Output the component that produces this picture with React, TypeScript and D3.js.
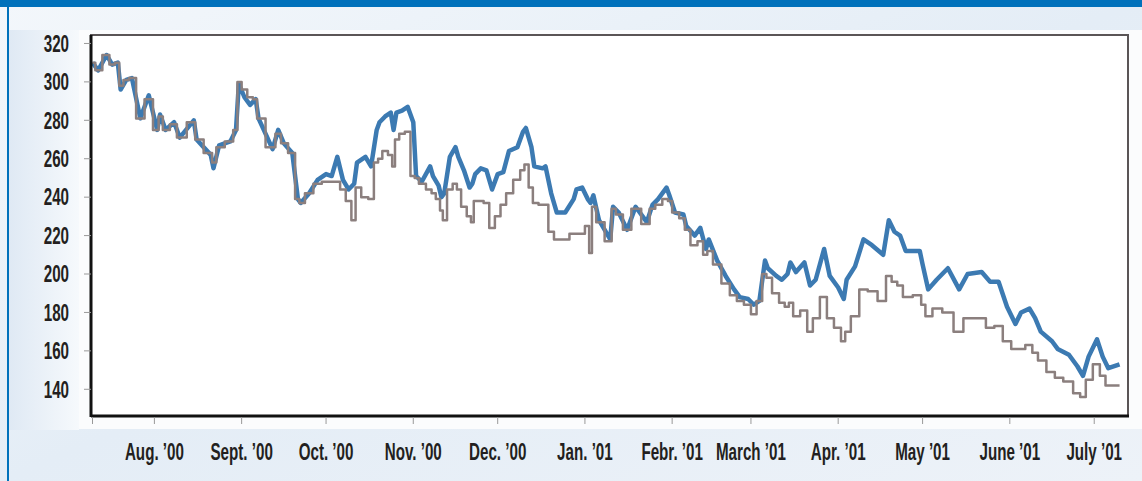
import React from 'react';
import * as d3 from 'd3';

// sample dates (irregular, follows the turns of the lines)
const dates = [
    '2000-07-10', '2000-07-12', '2000-07-15', '2000-07-17', '2000-07-19', '2000-07-20', '2000-07-22', '2000-07-24',
    '2000-07-27', '2000-07-30', '2000-08-02', '2000-08-03', '2000-08-05', '2000-08-08', '2000-08-10', '2000-08-15',
    '2000-08-16', '2000-08-21', '2000-08-22', '2000-08-24', '2000-08-28', '2000-08-30', '2000-08-31', '2000-09-02',
    '2000-09-04', '2000-09-06', '2000-09-07', '2000-09-12', '2000-09-14', '2000-09-16', '2000-09-19', '2000-09-21',
    '2000-09-22', '2000-09-25', '2000-09-28', '2000-10-01', '2000-10-03', '2000-10-05', '2000-10-07', '2000-10-09',
    '2000-10-11', '2000-10-12', '2000-10-15', '2000-10-17', '2000-10-19', '2000-10-20', '2000-10-22', '2000-10-24',
    '2000-10-25', '2000-10-26', '2000-10-28', '2000-10-30', '2000-11-01', '2000-11-02', '2000-11-04', '2000-11-07',
    '2000-11-08', '2000-11-10', '2000-11-11', '2000-11-12', '2000-11-14', '2000-11-16', '2000-11-17', '2000-11-19',
    '2000-11-21', '2000-11-22', '2000-11-23', '2000-11-25', '2000-11-27', '2000-11-29', '2000-12-01', '2000-12-03',
    '2000-12-05', '2000-12-08', '2000-12-10', '2000-12-11', '2000-12-13', '2000-12-14', '2000-12-17', '2000-12-18',
    '2000-12-20', '2000-12-22', '2000-12-25', '2000-12-28', '2000-12-29', '2000-12-31', '2001-01-02', '2001-01-03',
    '2001-01-04', '2001-01-06', '2001-01-10', '2001-01-11', '2001-01-13', '2001-01-16', '2001-01-19', '2001-01-23',
    '2001-01-25', '2001-01-27', '2001-01-30', '2001-01-31', '2001-02-02', '2001-02-05', '2001-02-06', '2001-02-09',
    '2001-02-11', '2001-02-13', '2001-02-14', '2001-02-17', '2001-02-20', '2001-02-23', '2001-02-25', '2001-02-28',
    '2001-03-02', '2001-03-04', '2001-03-06', '2001-03-07', '2001-03-10', '2001-03-12', '2001-03-14', '2001-03-15',
    '2001-03-17', '2001-03-20', '2001-03-22', '2001-03-24', '2001-03-27', '2001-03-29', '2001-04-01', '2001-04-03',
    '2001-04-04', '2001-04-07', '2001-04-10', '2001-04-13', '2001-04-17', '2001-04-19', '2001-04-21', '2001-04-23',
    '2001-04-25', '2001-04-30', '2001-05-01', '2001-05-03', '2001-05-06', '2001-05-10', '2001-05-14', '2001-05-17',
    '2001-05-22', '2001-05-25', '2001-05-28', '2001-05-31', '2001-06-03', '2001-06-05', '2001-06-08', '2001-06-10',
    '2001-06-12', '2001-06-16', '2001-06-18', '2001-06-22', '2001-06-25', '2001-06-27', '2001-06-29', '2001-07-02',
    '2001-07-04', '2001-07-06', '2001-07-10',
];

// blue series
const blueValues = [
    310, 306, 314, 309, 310, 296, 301, 302, 281, 293, 275, 283, 275, 279, 271, 280,
    270, 262, 255, 267, 269, 275, 299, 292, 288, 291, 281, 265, 275, 268, 263, 239,
    237, 242, 249, 252, 251, 261, 249, 244, 247, 258, 261, 256, 275, 279, 282, 284,
    275, 284, 285, 287, 279, 251, 248, 256, 251, 246, 240, 242, 261, 266, 261, 254,
    245, 247, 252, 255, 254, 244, 252, 253, 264, 266, 274, 276, 266, 256, 255, 256,
    242, 232, 232, 239, 244, 245, 239, 237, 241, 228, 218, 235, 232, 223, 235, 227,
    236, 239, 245, 241, 232, 231, 225, 220, 224, 213, 218, 207, 199, 192, 188, 187,
    184, 186, 207, 203, 199, 197, 200, 206, 201, 206, 194, 197, 213, 199, 193, 187,
    197, 204, 218, 215, 210, 228, 222, 220, 212, 212, 205, 192, 197, 203, 192, 200,
    201, 196, 196, 183, 174, 180, 182, 177, 170, 165, 161, 158, 152, 147, 157, 166,
    157, 151, 153,
];

// grey series
const greyValues = [
    310, 306, 314, 309, 310, 298, 301, 302, 281, 291, 275, 282, 275, 278, 271, 279,
    270, 263, 258, 266, 269, 275, 300, 296, 292, 291, 281, 266, 273, 268, 263, 239,
    237, 242, 247, 248, 248, 248, 244, 238, 228, 245, 240, 239, 258, 260, 264, 262,
    256, 270, 273, 274, 251, 250, 247, 244, 242, 239, 233, 228, 244, 247, 244, 235,
    230, 227, 238, 238, 237, 224, 230, 236, 242, 249, 254, 257, 245, 237, 236, 236,
    222, 218, 218, 221, 221, 221, 225, 211, 235, 227, 217, 234, 231, 223, 234, 226,
    234, 236, 239, 238, 232, 229, 223, 215, 217, 210, 212, 205, 195, 189, 186, 184,
    179, 186, 200, 198, 190, 185, 183, 185, 178, 181, 170, 177, 188, 177, 172, 165,
    170, 178, 192, 191, 186, 199, 196, 194, 188, 189, 184, 178, 182, 180, 170, 177,
    177, 172, 173, 165, 161, 161, 163, 159, 155, 149, 146, 144, 138, 136, 145, 153,
    147, 142, 142,
];

const yTicks = [140, 160, 180, 200, 220, 240, 260, 280, 300, 320];

const monthTicks = [
    '2000-07-10', '2000-08-01', '2000-09-01', '2000-10-01', '2000-11-01', '2000-12-01', '2001-01-01',
    '2001-02-01', '2001-03-01', '2001-04-01', '2001-05-01', '2001-06-01', '2001-07-01',
];
const monthLabels = [
    '', 'Aug. ’00', 'Sept. ’00', 'Oct. ’00', 'Nov. ’00', 'Dec. ’00', 'Jan. ’01',
    'Febr. ’01', 'March ’01', 'Apr. ’01', 'May ’01', 'June ’01', 'July ’01',
];

const W = 1142;
const H = 481;
const plot = { left: 91, right: 1128, top: 35, bottom: 416 };
const FONT = "'Liberation Sans', Arial, sans-serif";
const SQUEEZE = 0.66; // condensed look of the original lettering

const parse = d3.timeParse('%Y-%m-%d');

const App: React.FC = () => {
    const x = d3
        .scaleTime()
        .domain([parse('2000-07-10')!, parse('2001-07-13')!])
        .range([plot.left + 1.5, plot.right]);
    const y = d3.scaleLinear().domain([126.1, 324.4]).range([plot.bottom, plot.top]);

    const pts = dates.map((d) => parse(d)!);
    const blueLine = d3
        .line<number>()
        .x((_, i) => x(pts[i]))
        .y((v) => y(v))
        .curve(d3.curveLinear);
    const greyLine = d3
        .line<number>()
        .x((_, i) => x(pts[i]))
        .y((v) => y(v))
        .curve(d3.curveStep);

    return (
        <svg
            width={W}
            height={H}
            style={{ position: 'absolute', left: 0, top: 0, display: 'block' }}
        >
            <defs>
                <linearGradient id="bg" x1="0" y1="0" x2="1" y2="1">
                    <stop offset="0" stopColor="#f3f7fb" />
                    <stop offset="0.5" stopColor="#e4edf6" />
                    <stop offset="1" stopColor="#edf2f8" />
                </linearGradient>
                <linearGradient id="side" x1="0" y1="0" x2="1" y2="0">
                    <stop offset="0" stopColor="#dfe9f4" />
                    <stop offset="1" stopColor="#f6f9fc" />
                </linearGradient>
            </defs>
            <rect x={0} y={0} width={W} height={H} fill="url(#bg)" />
            <rect x={9} y={30} width={70} height={400} fill="url(#side)" />
            <rect x={79} y={30} width={W - 79} height={399} fill="#fbfcfd" />
            <rect x={0} y={0} width={W} height={7} fill="#0071bb" />
            <rect x={7} y={0} width={2} height={H} fill="#0071bb" />

            {/* plot frame */}
            <rect
                x={plot.left}
                y={plot.top}
                width={plot.right - plot.left}
                height={plot.bottom - plot.top}
                fill="#ffffff"
                stroke="#5a5556"
                strokeWidth={2}
            />

            {/* series */}
            <path
                d={blueLine(blueValues) || ''}
                fill="none"
                stroke="#3c7ab2"
                strokeWidth={4.5}
                strokeLinejoin="round"
            />
            <path
                d={greyLine(greyValues) || ''}
                fill="none"
                stroke="#8b7f7e"
                strokeWidth={2.5}
                strokeLinejoin="round"
            />

            {/* axes */}
            <line x1={plot.left} x2={plot.left} y1={plot.top} y2={plot.bottom + 1} stroke="#111" strokeWidth={3} />
            <line x1={plot.left} x2={plot.right + 1} y1={plot.bottom} y2={plot.bottom} stroke="#111" strokeWidth={3} />

            {yTicks.map((t) => (
                <g key={t}>
                    <line x1={plot.left - 7} x2={plot.left} y1={y(t)} y2={y(t)} stroke="#999" strokeWidth={1} />
                    <g transform={`translate(69,${y(t)}) scale(${SQUEEZE},1)`}>
                        <text
                            dy="0.36em"
                            textAnchor="end"
                            fontFamily={FONT}
                            fontWeight="bold"
                            fontSize={23}
                            fill="#231f20"
                        >
                            {t}
                        </text>
                    </g>
                </g>
            ))}

            {monthTicks.map((m, i) => {
                const px = x(parse(m)!);
                return (
                    <g key={m}>
                        <line x1={px} x2={px} y1={plot.bottom + 1} y2={plot.bottom + 8} stroke="#999" strokeWidth={1} />
                        <g transform={`translate(${px},460) scale(${SQUEEZE},1)`}>
                            <text
                                textAnchor="middle"
                                fontFamily={FONT}
                                fontWeight="bold"
                                fontSize={23}
                                fill="#231f20"
                            >
                                {monthLabels[i]}
                            </text>
                        </g>
                    </g>
                );
            })}
        </svg>
    );
};

export default App;
